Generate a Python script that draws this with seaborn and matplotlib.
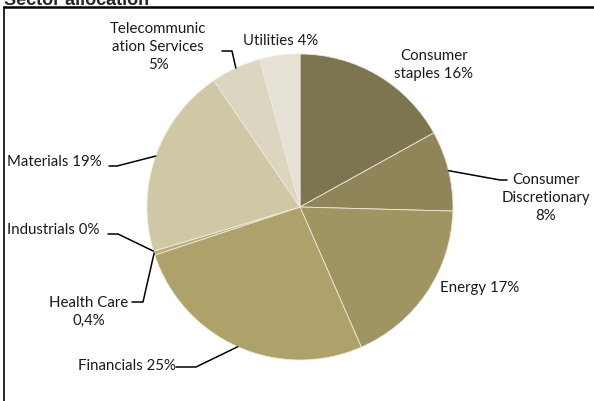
import numpy as np
import matplotlib
matplotlib.use("Agg")
import matplotlib.pyplot as plt
import seaborn as sns

# ---- data ----
sectors = ["Consumer staples", "Consumer Discretionary", "Energy", "Financials",
           "Health Care", "Industrials", "Materials",
           "Telecommunication Services", "Utilities"]
weights = [16, 8, 17, 25, 0.4, 0, 19, 5, 4]
label_texts = ["Consumer\nstaples 16%", "Consumer\nDiscretionary\n8%", "Energy 17%",
               "Financials 25%", "Health Care\n0,4%", "Industrials 0%",
               "Materials 19%", "Telecommunic\nation Services\n5%", "Utilities 4%"]
colors = ["#7D754F", "#8F8558", "#A09463", "#AEA26A", "#B8AD78", "#C4BA8E",
          "#D0C7A5", "#DCD6C1", "#E6E1D5"]
title = "Sector allocation"

# ---- layout (pixels) ----
W, H = 594, 402
CX, CY, R = 300, 208, 153
label_pos = [(434, 65, "center"), (546, 198, "center"), (480, 288, "center"),
             (176, 366, "right"), (89, 312, "center"), (7, 230, "left"),
             (7, 162, "left"), (158, 47, "center"), (281, 41, "center")]
# elbows: label-side points of leader lines (pixels), None = no leader
elbows = [None, [(507, 181), (500, 181)], None,
          [(176, 368), (196, 368)], [(132, 303), (143, 303)],
          [(108, 235), (118, 235)], [(109, 167), (117, 167)],
          [(222, 52), (232, 52)], None]

sns.set_theme(style="white")
plt.rcParams["font.family"] = ["Lato", "DejaVu Sans"]

def px(x, y):
    return ((x - CX) / R, (CY - y) / R)

fig = plt.figure(figsize=(W / 100, H / 100), dpi=100)
ax = fig.add_axes([0, 0, 1, 1])

wedges, _ = ax.pie(weights, colors=colors, startangle=90, counterclock=False,
                   radius=1, center=(0, 0), frame=True,
                   wedgeprops=dict(edgecolor="#EDE9DD", linewidth=0.6))
ax.set_xlim(-CX / R, (W - CX) / R)
ax.set_ylim((CY - H) / R, CY / R)
ax.set_aspect("auto")
ax.axis("off")

for w, txt, (lx, ly, ha), el in zip(wedges, label_texts, label_pos, elbows):
    ax.text(*px(lx, ly), txt, ha=ha, va="center", fontsize=10.8,
            color="#1a1a1a", linespacing=1.4, multialignment="center")
    if el is not None:
        mid = np.deg2rad((w.theta1 + w.theta2) / 2)
        ax_x, ax_y = np.cos(mid) * 1.0, np.sin(mid) * 1.0
        pts = [px(*p) for p in el] + [(ax_x, ax_y)]
        ax.plot([p[0] for p in pts], [p[1] for p in pts], color="black", lw=1.1)

# frame around the chart
fig.add_artist(plt.Line2D([4 / W, 4 / W], [0, 1 - 8 / H], transform=fig.transFigure,
                          color="black", lw=1.2))
fig.add_artist(plt.Line2D([4 / W, 1], [1 - 8 / H, 1 - 8 / H], transform=fig.transFigure,
                          color="black", lw=1.8))
fig.text(4 / W, 1 - 5 / H, title, ha="left", va="baseline", fontsize=13,
         fontweight="bold", family="Liberation Sans")

fig.savefig("out.png", dpi=100)
